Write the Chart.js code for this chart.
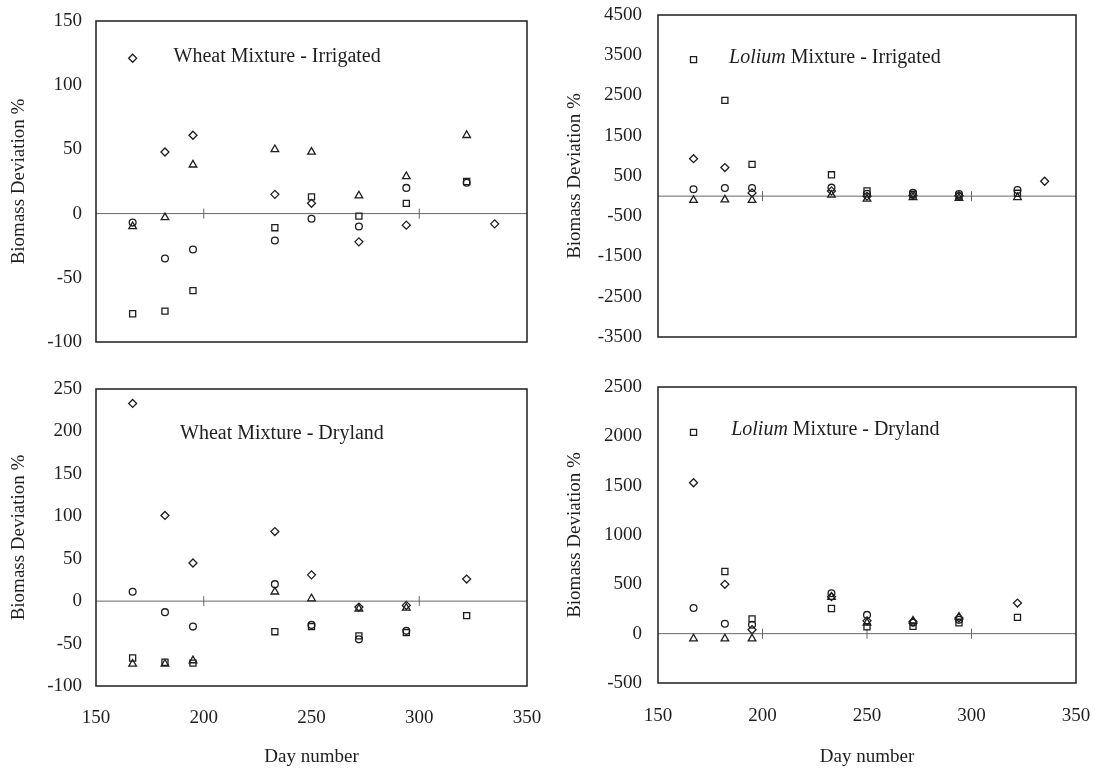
<!DOCTYPE html>
<html>
<head>
<meta charset="utf-8">
<script src="https://cdn.jsdelivr.net/npm/chart.js@4.4.0/dist/chart.umd.min.js"></script>
<style>
    html, body { margin: 0; padding: 0; background: #fff; }
    #wrap { position: relative; width: 1096px; height: 772px; }
    .panel { position: absolute; }
</style>
</head>
<body>
<div id="wrap">
    <div class="panel" style="left:0;top:0"><canvas id="wheatIrr" width="548" height="370"></canvas></div>
    <div class="panel" style="left:548px;top:0"><canvas id="loliumIrr" width="548" height="370"></canvas></div>
    <div class="panel" style="left:0;top:370px"><canvas id="wheatDry" width="548" height="402"></canvas></div>
    <div class="panel" style="left:548px;top:370px"><canvas id="loliumDry" width="548" height="402"></canvas></div>
</div>
<script>
// Dias de muestreo (eje x)
const days = [167, 182, 195, 233, 250, 272, 294, 322, 335];

// Wheat Mixture - Irrigated
const wheatIrrDiamond  = [121, 48, 61, 15, 8, -22, -9, null, -8];
const wheatIrrCircle   = [-7, -35, -28, -21, -4, -10, 20, 24, null];
const wheatIrrSquare   = [-78, -76, -60, -11, 13, -2, 8, 25, null];
const wheatIrrTriangle = [-10, -3, 38, 50, 48, 14, 29, 61, null];

// Lolium Mixture - Irrigated
const loliumIrrDiamond  = [930, 710, 80, 130, 0, 20, 10, null, 370];
const loliumIrrCircle   = [170, 200, 200, 210, 60, 80, 50, 150, null];
const loliumIrrSquare   = [3390, 2380, 790, 530, 130, 40, 0, 70, null];
const loliumIrrTriangle = [-100, -90, -100, 30, -70, -30, -50, -30, null];

// Wheat Mixture - Dryland
const wheatDryDiamond  = [233, 101, 45, 82, 31, -7, -5, 26, null];
const wheatDryCircle   = [11, -13, -30, 20, -28, -45, -35, null, null];
const wheatDrySquare   = [-67, -72, -73, -36, -30, -41, -37, -17, null];
const wheatDryTriangle = [-74, -74, -70, 11, 3, -9, -8, null, null];

// Lolium Mixture - Dryland
const loliumDryDiamond  = [1530, 500, 40, 375, 130, 120, 160, 310, null];
const loliumDryCircle   = [260, 100, 90, 410, 190, 110, 140, null, null];
const loliumDrySquare   = [2040, 630, 150, 255, 70, 75, 110, 165, null];
const loliumDryTriangle = [-50, -50, -50, 370, 110, 130, 170, null, null];

// Ejes
const xTicks = [150, 200, 250, 300, 350];
const wheatIrrTicks = [-100, -50, 0, 50, 100, 150];
const loliumIrrTicks = [-3500, -2500, -1500, -500, 500, 1500, 2500, 3500, 4500];
const wheatDryTicks = [-100, -50, 0, 50, 100, 150, 200, 250];
const loliumDryTicks = [-500, 0, 500, 1000, 1500, 2000, 2500];

const SERIF = "'Liberation Serif', 'Times New Roman', serif";
const INK = '#1e1e1e';

const markerStyles = [
    { pointStyle: 'rectRot', radius: 4.0 },
    { pointStyle: 'circle', radius: 3.4 },
    { pointStyle: 'rect', radius: 4.3 },
    { pointStyle: 'triangle', radius: 4.4 }
];

function toPoints(values) {
    return days.map((d, i) => values[i] === null ? null : { x: d, y: values[i] }).filter(p => p);
}

// Marco, linea de cero y rotulo del panel
const framePlugin = {
    id: 'frame',
    beforeDatasetsDraw(chart, args, opts) {
        const { ctx, chartArea: a, scales } = chart;
        const y0 = scales.y.getPixelForValue(0);
        ctx.save();
        ctx.strokeStyle = '#666';
        ctx.lineWidth = 1;
        ctx.beginPath();
        ctx.moveTo(a.left, y0);
        ctx.lineTo(a.right, y0);
        opts.zeroTicks.forEach(d => {
            const x = scales.x.getPixelForValue(d);
            ctx.moveTo(x, y0 - 5);
            ctx.lineTo(x, y0 + 5);
        });
        ctx.stroke();
        ctx.restore();
    },
    afterDraw(chart, args, opts) {
        const { ctx, chartArea: a, scales } = chart;
        ctx.save();
        ctx.strokeStyle = INK;
        ctx.lineWidth = 1.5;
        ctx.strokeRect(a.left, a.top, a.right - a.left, a.bottom - a.top);

        let x = scales.x.getPixelForValue(opts.labelAt[0]);
        const y = scales.y.getPixelForValue(opts.labelAt[1]);
        ctx.fillStyle = INK;
        ctx.textBaseline = 'middle';
        ctx.textAlign = 'left';
        opts.label.forEach(part => {
            ctx.font = (part.italic ? 'italic ' : '') + '20px ' + SERIF;
            ctx.fillText(part.text, x, y);
            x += ctx.measureText(part.text).width;
        });
        ctx.restore();
    }
};

function makePanel(canvasId, p) {
    const ctx = document.getElementById(canvasId).getContext('2d');
    const canvasH = ctx.canvas.height;
    const datasets = p.series.map((vals, i) => ({
        data: toPoints(vals),
        pointStyle: markerStyles[i].pointStyle,
        pointRadius: markerStyles[i].radius,
        pointBorderWidth: 1.3,
        pointBorderColor: INK,
        pointBackgroundColor: 'rgba(0,0,0,0)',
        showLine: false
    }));

    // marcas de eje invisibles: dan la separacion sin inflar el relleno del layout
    const hiddenTicks = len => ({
        display: true, drawOnChartArea: false, drawTicks: true,
        tickLength: len, tickColor: 'rgba(0,0,0,0)'
    });

    return new Chart(ctx, {
        type: 'scatter',
        data: { datasets: datasets },
        options: {
            responsive: false,
            animation: false,
            events: [],
            layout: { padding: { left: 0, top: p.top, right: p.right, bottom: 0 } },
            plugins: {
                legend: { display: false },
                tooltip: { enabled: false },
                frame: { zeroTicks: p.zeroTicks, label: p.label, labelAt: p.labelAt }
            },
            scales: {
                x: {
                    type: 'linear',
                    display: p.showX,
                    min: xTicks[0],
                    max: xTicks[xTicks.length - 1],
                    afterBuildTicks: s => { s.ticks = xTicks.map(v => ({ value: v })); },
                    grid: hiddenTicks(p.xTickPad),
                    border: { display: false },
                    ticks: { padding: 1, color: INK, font: { family: SERIF, size: 19 } },
                    title: {
                        display: true, text: 'Day number', color: INK,
                        font: { family: SERIF, size: 19 },
                        padding: { top: 0, bottom: 4 }
                    },
                    afterFit: s => { s.height = canvasH - p.bottom; }
                },
                y: {
                    type: 'linear',
                    min: p.yTicks[0],
                    max: p.yTicks[p.yTicks.length - 1],
                    afterBuildTicks: s => { s.ticks = p.yTicks.map(v => ({ value: v })); },
                    grid: hiddenTicks(p.yTickPad),
                    border: { display: false },
                    ticks: {
                        padding: 1, color: INK,
                        font: { family: SERIF, size: 19 },
                        callback: v => String(v)
                    },
                    title: {
                        display: true, text: 'Biomass Deviation %', color: INK,
                        font: { family: SERIF, size: 19 },
                        padding: { top: p.yTitlePad, bottom: 0 }
                    },
                    afterFit: s => { s.width = p.left; }
                }
            }
        },
        plugins: [framePlugin]
    });
}

makePanel('wheatIrr', {
    series: [wheatIrrDiamond, wheatIrrCircle, wheatIrrSquare, wheatIrrTriangle],
    yTicks: wheatIrrTicks, showX: false,
    left: 96, right: 21, top: 21, bottom: 342,
    yTickPad: 13, yTitlePad: 8, xTickPad: 20,
    zeroTicks: [200, 300],
    label: [{ text: 'Wheat Mixture - Irrigated' }], labelAt: [186, 122]
});

makePanel('loliumIrr', {
    series: [loliumIrrDiamond, loliumIrrCircle, loliumIrrSquare, loliumIrrTriangle],
    yTicks: loliumIrrTicks, showX: false,
    left: 110, right: 20, top: 15, bottom: 337,
    yTickPad: 15, yTitlePad: 16, xTickPad: 20,
    zeroTicks: [200, 300],
    label: [{ text: 'Lolium', italic: true }, { text: ' Mixture - Irrigated' }], labelAt: [184, 3450]
});

makePanel('wheatDry', {
    series: [wheatDryDiamond, wheatDryCircle, wheatDrySquare, wheatDryTriangle],
    yTicks: wheatDryTicks, showX: true,
    left: 96, right: 21, top: 19, bottom: 316,
    yTickPad: 13, yTitlePad: 8, xTickPad: 20,
    zeroTicks: [200, 300],
    label: [{ text: 'Wheat Mixture - Dryland' }], labelAt: [189, 197]
});

makePanel('loliumDry', {
    series: [loliumDryDiamond, loliumDryCircle, loliumDrySquare, loliumDryTriangle],
    yTicks: loliumDryTicks, showX: true,
    left: 110, right: 20, top: 17, bottom: 313,
    yTickPad: 15, yTitlePad: 16, xTickPad: 21,
    zeroTicks: [200, 250, 300],
    label: [{ text: 'Lolium', italic: true }, { text: ' Mixture - Dryland' }], labelAt: [185, 2070]
});
</script>
</body>
</html>
